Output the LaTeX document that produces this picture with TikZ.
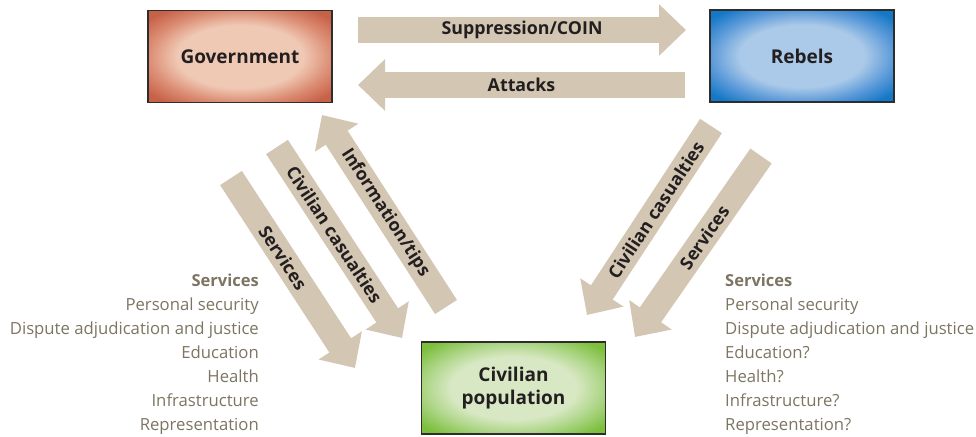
\documentclass[tikz,border=0pt]{standalone}
\usepackage{fontspec}
\setmainfont{Open Sans}
\usepackage{tikz}
\usetikzlibrary{arrows.meta}
\definecolor{arrowtan}{RGB}{211,198,178}
\definecolor{labeldark}{RGB}{35,31,32}
\definecolor{listgray}{RGB}{125,117,98}
\definecolor{boxline}{RGB}{45,45,45}
\pgfdeclareradialshading{govglow}{\pgfpoint{0bp}{0bp}}{rgb(0bp)=(0.94,0.79,0.71); rgb(17bp)=(0.94,0.79,0.71); rgb(25bp)=(0.86,0.55,0.45); rgb(32bp)=(0.78,0.38,0.28); rgb(50bp)=(0.78,0.38,0.28)}
\pgfdeclareradialshading{rebglow}{\pgfpoint{0bp}{0bp}}{rgb(0bp)=(0.67,0.79,0.91); rgb(17bp)=(0.67,0.79,0.91); rgb(25bp)=(0.35,0.60,0.85); rgb(32bp)=(0.08,0.47,0.78); rgb(50bp)=(0.08,0.47,0.78)}
\pgfdeclareradialshading{civglow}{\pgfpoint{0bp}{0bp}}{rgb(0bp)=(0.85,0.91,0.77); rgb(17bp)=(0.85,0.91,0.77); rgb(25bp)=(0.66,0.83,0.50); rgb(32bp)=(0.49,0.75,0.24); rgb(50bp)=(0.49,0.75,0.24)}
\tikzstyle{actor} = [draw=boxline, line width=1.3pt, minimum width=184pt, minimum height=92pt, font=\bfseries\fontsize{19}{23}\selectfont, text=labeldark, align=center]
\tikzstyle{flow} = [draw=arrowtan, line width=26pt, -{Triangle[length=27pt,width=50pt]}]
\tikzstyle{flowlabel} = [sloped, font=\bfseries\fontsize{17.8}{20}\selectfont, text=labeldark]
\tikzstyle{servlist} = [text=listgray, font=\fontsize{16.7}{20}\selectfont, inner sep=0pt]

\begin{document}
\begin{tikzpicture}[x=1pt,y=-1pt]
	\useasboundingbox (0,0) rectangle (976,436);
	\node[actor, shading=govglow] (gov) at (240,56.5) {Government};
	\node[actor, shading=rebglow] (reb) at (802,56) {Rebels};
	\node[actor, shading=civglow] (civ) at (513.5,388) {Civilian\\population};

	\coordinate (supTail) at (358,30);
	\coordinate (supTip) at (686,30);
	\coordinate (attTail) at (685,85);
	\coordinate (attTip) at (358,85);
	\coordinate (infoTail) at (446,307);
	\coordinate (infoTip) at (322,115);
	\coordinate (lcasTail) at (277,147);
	\coordinate (lcasTip) at (402,338);
	\coordinate (lservTail) at (231,178);
	\coordinate (lservTip) at (355,368);
	\coordinate (rcasTail) at (711,126);
	\coordinate (rcasTip) at (587,315);
	\coordinate (rservTail) at (761,156);
	\coordinate (rservTip) at (635,337);

	\draw[flow] (supTail) -- node[flowlabel] {Suppression/COIN} (supTip);
	\draw[flow] (attTail) -- node[flowlabel] {Attacks} (attTip);
	\draw[flow] (infoTail) -- node[flowlabel, pos=0.49] {Information/tips} (infoTip);
	\draw[flow] (lcasTail) -- node[flowlabel, pos=0.46] {Civilian casualties} (lcasTip);
	\draw[flow] (lservTail) -- node[flowlabel, pos=0.42] {Services} (lservTip);
	\draw[flow] (rcasTail) -- node[flowlabel, pos=0.445] {Civilian casualties} (rcasTip);
	\draw[flow] (rservTail) -- node[flowlabel, pos=0.45] {Services} (rservTip);

	\node[servlist, anchor=base east, font=\bfseries\fontsize{16.5}{20}\selectfont] (govhead) at (259,286) {Services};
	\foreach \item [count=\i] in {Personal security, Dispute adjudication and justice, Education, Health, Infrastructure, Representation}
		\node[servlist, anchor=base east] (govserv\i) at (259,286+24*\i) {\item};
	\node[servlist, anchor=base west, font=\bfseries\fontsize{16.5}{20}\selectfont] (rebhead) at (725,286) {Services};
	\foreach \item [count=\i] in {Personal security, Dispute adjudication and justice, Education?, Health?, Infrastructure?, Representation?}
		\node[servlist, anchor=base west] (rebserv\i) at (725,286+24*\i) {\item};
\end{tikzpicture}
\end{document}
